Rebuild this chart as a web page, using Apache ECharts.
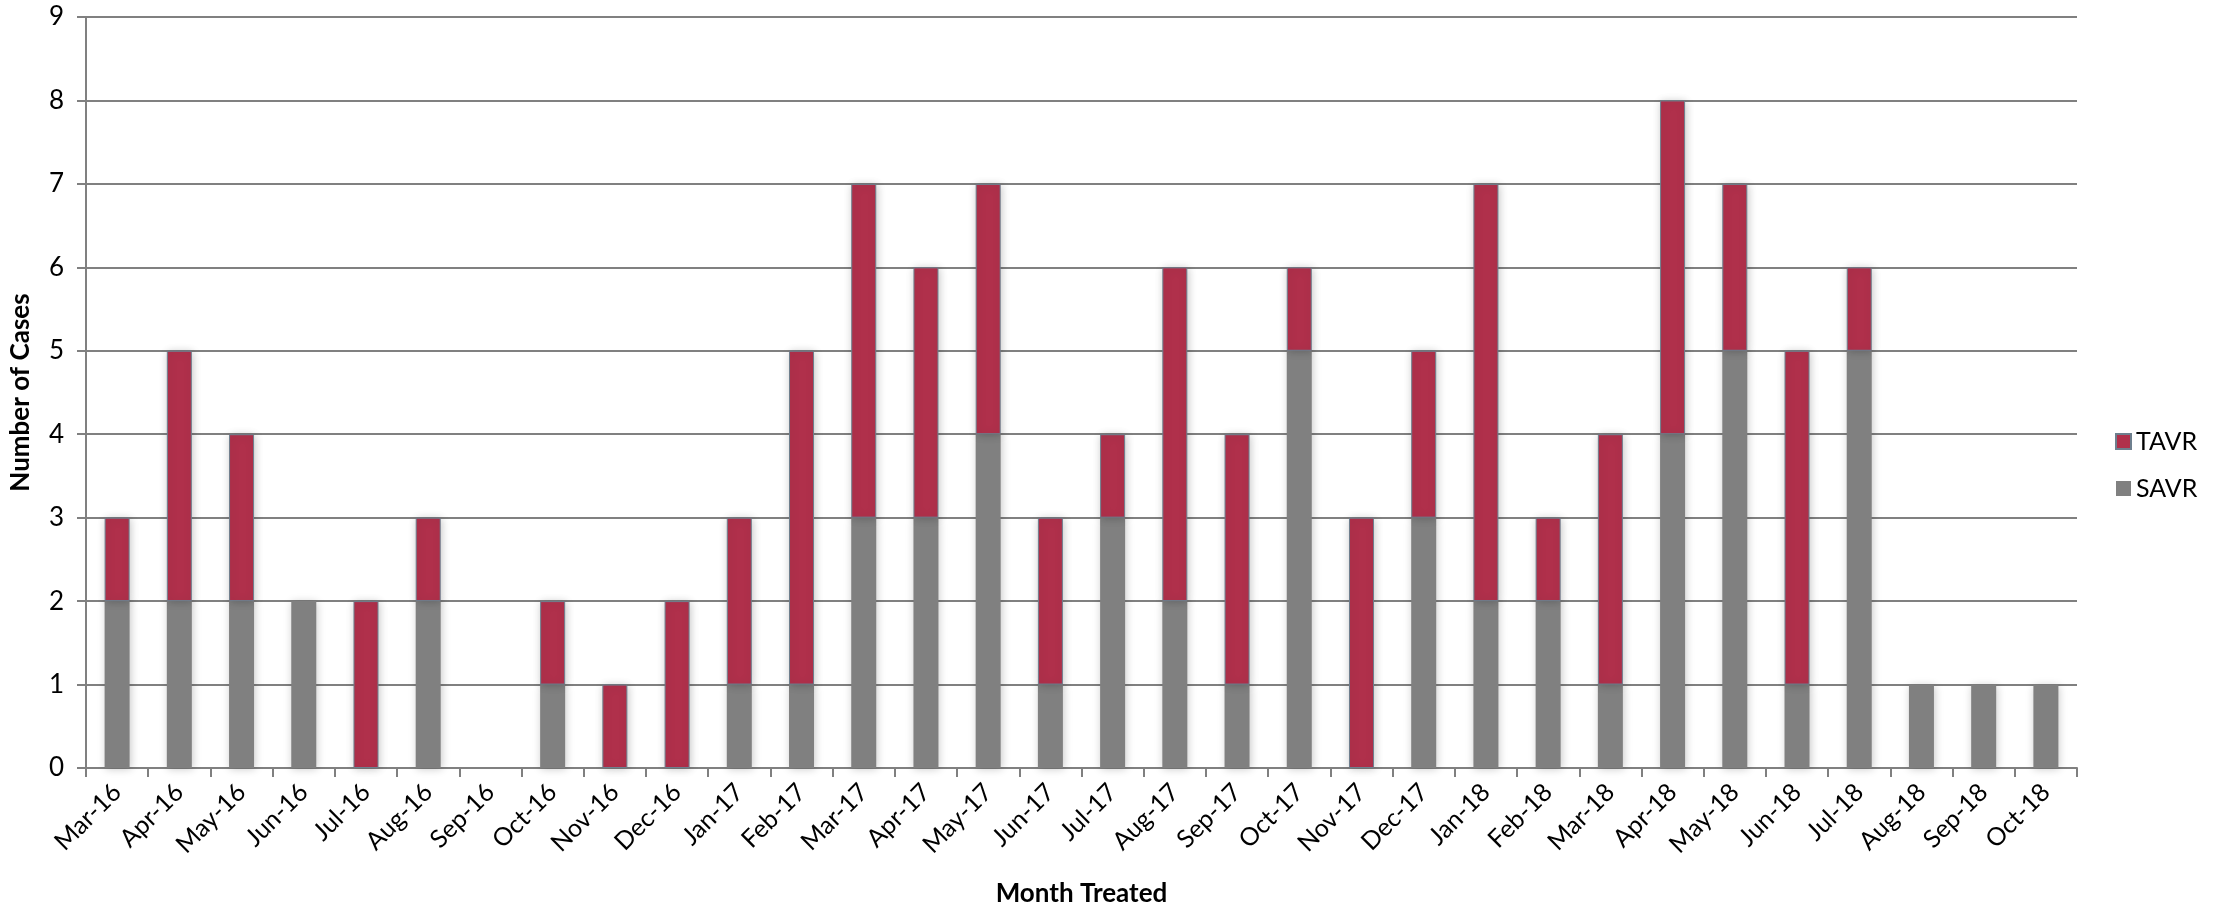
<!DOCTYPE html>
<html>
<head>
<meta charset="utf-8">
<script src="https://cdn.jsdelivr.net/npm/echarts@6/dist/echarts.min.js"></script>
<style>
  html, body { margin: 0; padding: 0; background: #fff; }
  #chart { width: 2231px; height: 903px; }
</style>
</head>
<body>
<div id="chart"></div>
<script>
// Monthly valve replacement cases by procedure type
const months = ['Mar-16','Apr-16','May-16','Jun-16','Jul-16','Aug-16','Sep-16','Oct-16','Nov-16','Dec-16',
  'Jan-17','Feb-17','Mar-17','Apr-17','May-17','Jun-17','Jul-17','Aug-17','Sep-17','Oct-17','Nov-17','Dec-17',
  'Jan-18','Feb-18','Mar-18','Apr-18','May-18','Jun-18','Jul-18','Aug-18','Sep-18','Oct-18'];
const savr = [2,2,2,2,0,2,0,1,0,0, 1,1,3,3,4,1,3,2,1,5,0,3, 2,2,1,4,5,1,5,1,1,1];
const tavr = [1,3,2,0,2,1,0,1,1,2, 2,4,4,3,3,2,1,4,3,1,3,2, 5,1,3,4,2,4,1,0,0,0];
const yTicks = [0,1,2,3,4,5,6,7,8,9];

const FONT = 'Lato, "Open Sans", sans-serif';
const axisGrey = '#808080';

// Empty segments are left out so no zero-height outline is drawn
const nz = arr => arr.map(v => (v === 0 ? null : v));

const barShadow = {
  shadowColor: 'rgba(0,0,0,0.22)',
  shadowBlur: 8,
  shadowOffsetX: 1,
  shadowOffsetY: 1
};

const chart = echarts.init(document.getElementById('chart'), null, { renderer: 'canvas' });
chart.setOption({
  backgroundColor: '#ffffff',
  animation: false,
  textStyle: { fontFamily: FONT },
  grid: { left: 86, right: 154, top: 17, bottom: 135, containLabel: false, outerBoundsMode: 'none' },
  legend: {
    orient: 'vertical',
    left: 2110,
    top: 424,
    itemWidth: 15,
    itemHeight: 15,
    itemGap: 22,
    icon: 'rect',
    data: ['TAVR', 'SAVR'],
    textStyle: { fontFamily: FONT, fontSize: 25, color: '#000' }
  },
  xAxis: {
    type: 'category',
    data: months,
    name: 'Month Treated',
    nameLocation: 'middle',
    nameGap: 113,
    nameTextStyle: { fontFamily: FONT, fontSize: 26, fontWeight: 'bold', color: '#000' },
    axisLine: { lineStyle: { color: axisGrey, width: 2 } },
    axisTick: { show: true, length: 9, lineStyle: { color: axisGrey, width: 2 } },
    axisLabel: { rotate: 45, margin: 20, fontSize: 25, color: '#000', fontFamily: FONT, interval: 0 }
  },
  yAxis: {
    type: 'value',
    min: yTicks[0],
    max: yTicks[yTicks.length - 1],
    interval: 1,
    name: 'Number of Cases',
    nameLocation: 'middle',
    nameGap: 52,
    nameRotate: 90,
    nameTextStyle: { fontFamily: FONT, fontSize: 26, fontWeight: 'bold', color: '#000' },
    axisLine: { show: true, lineStyle: { color: axisGrey, width: 2 } },
    axisTick: { show: true, length: 9, lineStyle: { color: axisGrey, width: 2 } },
    axisLabel: { margin: 22, fontSize: 26, color: '#000', fontFamily: FONT },
    splitLine: { show: true, lineStyle: { color: axisGrey, width: 2 } }
  },
  series: [
    {
      name: 'SAVR',
      type: 'bar',
      stack: 'cases',
      barWidth: 25,
      data: nz(savr),
      itemStyle: Object.assign({ color: '#808080' }, barShadow)
    },
    {
      name: 'TAVR',
      type: 'bar',
      stack: 'cases',
      barWidth: 25,
      data: nz(tavr),
      itemStyle: Object.assign({ color: '#B0304B', borderColor: '#6E7F8E', borderWidth: 1 }, barShadow)
    }
  ]
});
</script>
</body>
</html>
